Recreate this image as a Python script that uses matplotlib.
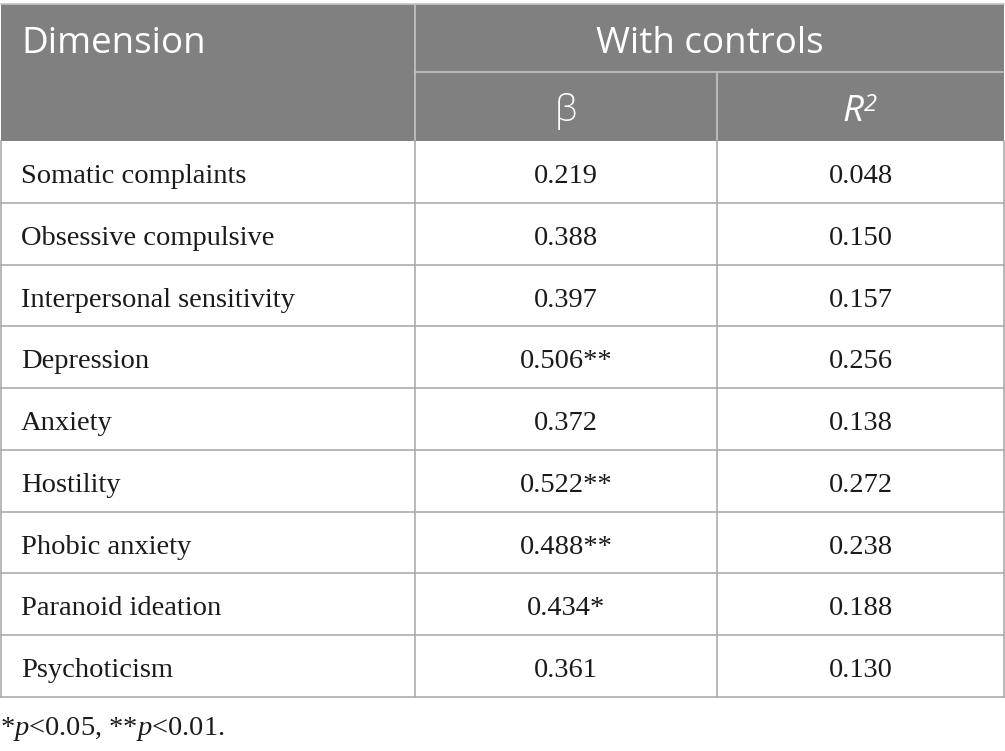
import matplotlib
matplotlib.use("Agg")
import matplotlib.pyplot as plt

# table contents
dimensions = ["Somatic complaints", "Obsessive compulsive", "Interpersonal sensitivity",
              "Depression", "Anxiety", "Hostility", "Phobic anxiety",
              "Paranoid ideation", "Psychoticism"]
beta = ["0.219", "0.388", "0.397", "0.506**", "0.372", "0.522**", "0.488**", "0.434*", "0.361"]
r2 = ["0.048", "0.150", "0.157", "0.256", "0.138", "0.272", "0.238", "0.188", "0.130"]

header_col = "#808080"
line_col = "#ababab"
head_font = "Open Sans"
body_font = "Liberation Serif"

plt.rcParams["mathtext.fontset"] = "custom"
plt.rcParams["mathtext.rm"] = "Liberation Serif"
plt.rcParams["mathtext.it"] = "Liberation Serif:italic"

W, H = 1005, 751
fig = plt.figure(figsize=(W / 100, H / 100), dpi=100)
ax = fig.add_axes([0, 0, 1, 1])
ax.set_xlim(0, W)
ax.set_ylim(H, 0)
ax.axis("off")

x0, x1, x2, x3 = 0.5, 415, 717, 1004
top, mid, hbot = 4, 72, 141
row_h = (697 - hbot) / len(dimensions)

# header block
ax.add_patch(plt.Rectangle((x0, top), x3 - x0, hbot - top, color=header_col, lw=0))
ax.plot([x1, x3], [mid, mid], color="#c4c4c4", lw=1.2)
ax.plot([x1, x1], [top, hbot], color="#c4c4c4", lw=1.2)
ax.plot([x2, x2], [mid, hbot], color="#c4c4c4", lw=1.2)
ax.plot([x0, x3], [top, top], color="#c4c4c4", lw=1.2)

hs = dict(color="white", fontsize=26.5, family=head_font, va="baseline")
ax.text(21, 53, "Dimension", ha="left", **hs)
ax.text((x1 + x3) / 2, 53, "With controls", ha="center", **hs)
ax.text((x1 + x2) / 2, 121, "\u03b2", ha="center", **dict(hs, fontweight="light"))
cx = (x2 + x3) / 2
ax.text(cx + 3, 121, "R", ha="right", style="italic", **hs)
hs2 = dict(hs, fontsize=17)
ax.text(cx + 3, 111, "2", ha="left", style="italic", **hs2)

# body rows
bs = dict(fontsize=20.5, family=body_font, va="baseline", color="#1a1a1a")
for i, (d, b, r) in enumerate(zip(dimensions, beta, r2)):
    yt = hbot + i * row_h
    yb = yt + 42
    ax.plot([x0, x3], [yt + row_h, yt + row_h], color=line_col, lw=1.2)
    ax.text(21, yb, d, ha="left", **bs)
    ax.text((x1 + x2) / 2, yb, b, ha="center", **bs)
    ax.text((x2 + x3) / 2, yb, r, ha="center", **bs)

for xv in [x0, x1, x2, x3]:
    ax.plot([xv, xv], [hbot, 697], color=line_col, lw=1.2)

ax.text(0, 735, "*$p$<0.05, **$p$<0.01.", ha="left", **bs)

fig.savefig("out.png", dpi=100)
